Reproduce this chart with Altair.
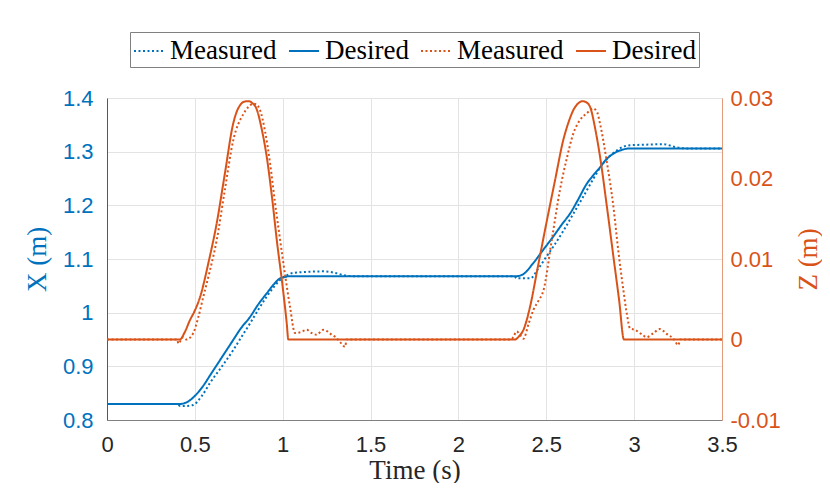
import altair as alt
import pandas as pd

BLUE = "#0072BD"
ORANGE = "#D95319"

# X desired
t_xd = [0, 0.42, 0.453, 0.53, 0.6, 0.66, 0.718, 0.76, 0.814, 0.86, 0.909, 0.95, 0.985, 1.02, 1.03,
        2.33, 2.37, 2.425, 2.48, 2.54, 2.59, 2.636, 2.68, 2.73, 2.77, 2.806, 2.84, 2.88, 2.937, 2.97, 3.5]
v_xd = [0.83, 0.83, 0.833, 0.856, 0.89, 0.92, 0.949, 0.97, 0.992, 1.015, 1.036, 1.053, 1.064, 1.067, 1.068,
        1.068, 1.072, 1.092, 1.116, 1.142, 1.165, 1.185, 1.21, 1.24, 1.257, 1.271, 1.285, 1.296, 1.304, 1.306, 1.306]

# X measured
t_xm = [0, 0.40, 0.415, 0.45, 0.49, 0.54, 0.586, 0.65, 0.718, 0.76, 0.814, 0.86, 0.909, 0.95, 0.985, 1.02,
        1.06, 1.14, 1.23, 1.30, 1.345, 1.40, 2.32, 2.33, 2.41, 2.45, 2.50, 2.55, 2.6, 2.655, 2.71, 2.76,
        2.806, 2.84, 2.88, 2.93, 2.976, 3.07, 3.165, 3.24, 3.30, 3.5]
v_xm = [0.83, 0.83, 0.826, 0.826, 0.828, 0.845, 0.869, 0.898, 0.930, 0.952, 0.98, 1.005, 1.03, 1.048, 1.061, 1.069,
        1.074, 1.076, 1.077, 1.074, 1.07, 1.068, 1.068, 1.064, 1.064, 1.08, 1.104, 1.128, 1.154, 1.185, 1.216, 1.245,
        1.27, 1.285, 1.297, 1.308, 1.312, 1.313, 1.314, 1.308, 1.306, 1.306]

# Z desired
t_zd = [0, 0.415, 0.44, 0.472, 0.50, 0.53, 0.58, 0.624, 0.67, 0.719, 0.74, 0.757, 0.775, 0.795, 0.81, 0.825, 0.852, 0.88, 0.909,
        0.94, 0.966, 1.0, 1.023, 1.032, 2.322, 2.345, 2.37, 2.407, 2.45, 2.50, 2.55, 2.597, 2.63, 2.654, 2.68, 2.705, 2.725, 2.749,
        2.78, 2.806, 2.845, 2.882, 2.915, 2.942, 3.5]
v_zd = [0, 0, 0.0008, 0.0024, 0.0036, 0.0053, 0.0098, 0.0144, 0.0205, 0.0269, 0.0284, 0.0291, 0.0295, 0.0296, 0.0296, 0.0294, 0.0286, 0.0262, 0.0227,
        0.0175, 0.0124, 0.0065, 0.002, 0, 0, 0.0004, 0.0012, 0.004, 0.0088, 0.0144, 0.0198, 0.0248, 0.0272, 0.0285, 0.0293, 0.0296, 0.0295, 0.0289,
        0.026, 0.0227, 0.0165, 0.0103, 0.0048, 0, 0]

# Z measured
t_zm = [0, 0.40, 0.406, 0.434, 0.453, 0.491, 0.52, 0.548, 0.585, 0.624, 0.67, 0.719, 0.776, 0.805, 0.833, 0.85, 0.871, 0.90,
        0.928, 0.955, 0.985, 1.015, 1.042, 1.07, 1.10, 1.136, 1.165, 1.193, 1.231, 1.255, 1.278, 1.30, 1.326, 1.355,
        1.364, 2.30, 2.312, 2.332, 2.35, 2.37, 2.40, 2.427, 2.455, 2.484, 2.53, 2.578, 2.62, 2.654, 2.69, 2.73,
        2.768, 2.79, 2.806, 2.845, 2.882, 2.91, 2.939, 2.96, 2.976, 3.005, 3.04, 3.071, 3.11, 3.147, 3.185, 3.223,
        3.252, 3.261, 3.5]
v_zm = [0, 0, -0.0005, 0.0003, 0, 0.0008, 0.0028, 0.0053, 0.0085, 0.0123, 0.0185, 0.0248, 0.028, 0.0289, 0.0293, 0.0292, 0.0285, 0.0258,
        0.0219, 0.0172, 0.0124, 0.0078, 0.004, 0.0008, 0.0009, 0.0012, 0.0008, 0.0006, 0.0012, 0.001, 0.0006, 0.0003, -0.0003, -0.0009,
        0, 0, 0.0003, 0.001, 0.0006, 0.0001, 0.002, 0.0037, 0.0048, 0.0061, 0.0122, 0.0186, 0.0228, 0.0256, 0.0272, 0.0281,
        0.0287, 0.0282, 0.0268, 0.022, 0.0165, 0.011, 0.0061, 0.003, 0.0014, 0.0012, 0.0007, 0.0003, 0.0008, 0.0013, 0.0007, 0.0001,
        -0.0007, 0, 0]

series_domain = ["X|Measured", "X|Desired", "Z|Measured", "Z|Desired"]
x_ticks = [0, 0.5, 1, 1.5, 2, 2.5, 3, 3.5]
xl_ticks = [0.8, 0.9, 1.0, 1.1, 1.2, 1.3, 1.4]
zr_ticks = [-0.01, 0, 0.01, 0.02, 0.03]

def frame(ts, vs, name):
    return pd.DataFrame({"t": ts, "v": vs, "series": name, "order": range(len(ts))})

df_x = pd.concat([frame(t_xm, v_xm, "X|Measured"), frame(t_xd, v_xd, "X|Desired")])
df_z = pd.concat([frame(t_zm, v_zm, "Z|Measured"), frame(t_zd, v_zd, "Z|Desired")])

legend = alt.Legend(
    orient="none", legendX=23, legendY=-66, direction="horizontal", columns=4, title=None,
    symbolType="stroke", symbolSize=900, symbolStrokeWidth=2,
    labelFont="Liberation Serif", labelFontSize=27, labelColor="black", labelLimit=300,
    strokeColor="#808080", fillColor="white", padding=3, labelOffset=5, columnPadding=8,
    labelExpr="split(datum.label, '|')[1]",
)

color = alt.Color("series:N", scale=alt.Scale(domain=series_domain, range=[BLUE, BLUE, ORANGE, ORANGE]), legend=legend)
dash = alt.StrokeDash("series:N", scale=alt.Scale(domain=series_domain, range=[[2, 2.5], [1, 0], [2, 2.5], [1, 0]]), legend=legend)

x_enc = alt.X("t:Q", scale=alt.Scale(domain=[0, 3.5], nice=False),
              axis=alt.Axis(values=x_ticks, format="~g", title="Time (s)", grid=True, gridColor="#e3e3e3",
                            ticks=False, tickSize=0, labelPadding=14, labelFlush=False, labelFont="Liberation Sans",
                            labelFontSize=22, labelColor="#262626", domainColor="#808080",
                            titleFont="Liberation Serif", titleFontSize=27, titleFontWeight="normal",
                            titleColor="#262626", titlePadding=2))

left = alt.Chart(df_x).mark_line(strokeWidth=2, interpolate="monotone").encode(
    x=x_enc,
    y=alt.Y("v:Q", scale=alt.Scale(domain=[0.8, 1.4], nice=False, zero=False),
            axis=alt.Axis(values=xl_ticks, format="~g", title="X (m)", grid=True, gridColor="#e3e3e3",
                          ticks=False, tickSize=0, labelPadding=14, labelFlush=False, labelFont="Liberation Sans",
                          labelFontSize=22, labelColor=BLUE, domainColor=BLUE,
                          titleFont="Liberation Serif", titleFontSize=27, titleFontWeight="normal",
                          titleColor=BLUE, titlePadding=11)),
    color=color, strokeDash=dash, order="order:Q",
)

right = alt.Chart(df_z).mark_line(strokeWidth=2, interpolate="monotone").encode(
    x=x_enc,
    y=alt.Y("v:Q", scale=alt.Scale(domain=[-0.01, 0.03], nice=False, zero=False),
            axis=alt.Axis(orient="right", values=zr_ticks, format="~g", title="Z (m)", grid=False,
                          ticks=False, tickSize=0, labelPadding=8, labelFlush=False, labelFont="Liberation Sans",
                          labelFontSize=22, labelColor=ORANGE, domainColor="#E39B7A",
                          labelExpr="replace(datum.label, '\u2212', '-')",
                          titleAngle=270, titleBaseline="top",
                          titleFont="Liberation Serif", titleFontSize=27, titleFontWeight="normal",
                          titleColor=ORANGE, titlePadding=15)),
    color=color, strokeDash=dash, order="order:Q",
)

chart = alt.layer(left, right).resolve_scale(y="independent").properties(
    width=615, height=322,
    autosize=alt.AutoSizeParams(type="none"),
    padding={"left": 99, "top": 90, "right": 100, "bottom": 63},
).configure_view(stroke="#808080", strokeWidth=1).configure(background="white")

chart.save("out.html", embed_options={"renderer": "svg", "actions": False})
